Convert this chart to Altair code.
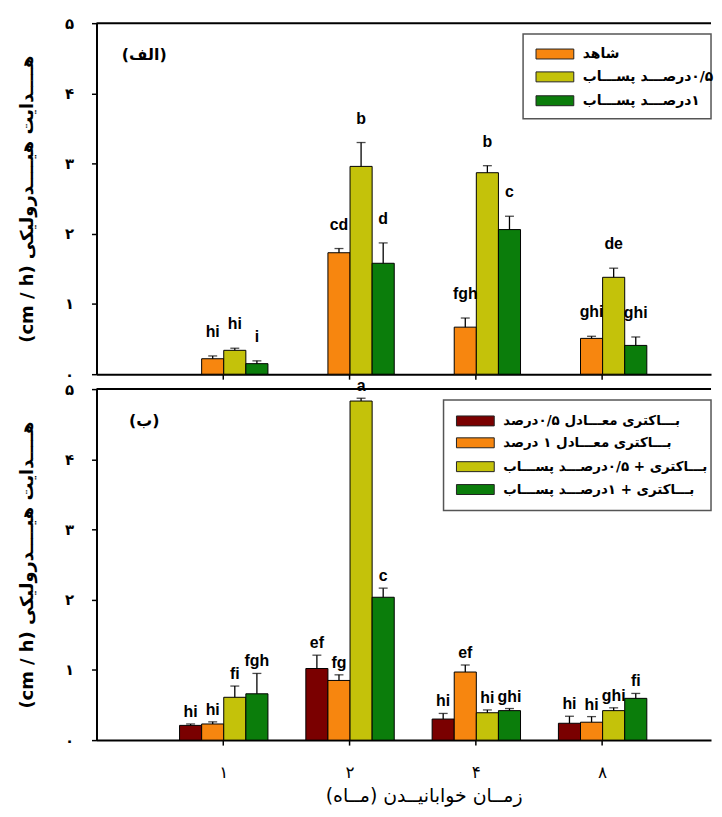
import altair as alt
import pandas as pd

RLE = "\u202b"
PDF = "\u202c"

months = ["۱", "۲", "۴", "۸"]
y_tick_labels = ["۰", "۱", "۲", "۳", "۴", "۵"]

# ---- panel (الف) ----
top_control = [0.22, 1.73, 0.67, 0.51]
top_control_err = [0.04, 0.06, 0.13, 0.03]
top_control_letters = ["hi", "cd", "fgh", "ghi"]
top_ww05 = [0.34, 2.96, 2.87, 1.38]
top_ww05_err = [0.03, 0.34, 0.10, 0.13]
top_ww05_letters = ["hi", "b", "b", "de"]
top_ww1 = [0.15, 1.58, 2.06, 0.41]
top_ww1_err = [0.04, 0.29, 0.19, 0.12]
top_ww1_letters = ["i", "d", "c", "ghi"]

# ---- panel (ب) ----
bot_b05 = [0.21, 1.02, 0.30, 0.24]
bot_b05_err = [0.02, 0.19, 0.08, 0.10]
bot_b05_letters = ["hi", "ef", "hi", "hi"]
bot_b1 = [0.23, 0.85, 0.97, 0.255]
bot_b1_err = [0.03, 0.08, 0.10, 0.08]
bot_b1_letters = ["hi", "fg", "ef", "hi"]
bot_bww05 = [0.61, 4.83, 0.39, 0.42]
bot_bww05_err = [0.16, 0.04, 0.04, 0.04]
bot_bww05_letters = ["fi", "a", "hi", "ghi"]
bot_bww1 = [0.66, 2.035, 0.42, 0.595]
bot_bww1_err = [0.29, 0.13, 0.03, 0.07]
bot_bww1_letters = ["fgh", "c", "ghi", "fi"]

slot_colors = ["#7A0000", "#F7860F", "#C4C20A", "#0B7D0B"]


def rtl(s):
    # lay the Persian text out right-to-left
    return RLE + s + PDF


top_legend = [
    "شاهد",
    "۰/۵درصـــد پســـاب",
    "۱درصـــد پســـاب",
]
top_legend_slots = [1, 2, 3]
bot_legend = [
    "بـــاکتری معـــادل ۰/۵درصد",
    "بـــاکتری معـــادل ۱ درصد",
    "بـــاکتری + ۰/۵درصـــد پســـاب",
    "بـــاکتری + ۱درصـــد پســـاب",
]
bot_legend_slots = [0, 1, 2, 3]

y_title = "هــــدایت هیــــدرولیکی (cm / h)"
x_title = "زمــان خوابانیــدن (مــاه)"


def make_df(series):
    rows = []
    for slot, vals, errs, lets in series:
        for m, v, e, l in zip(months, vals, errs, lets):
            rows.append({"month": m, "slot": slot, "value": v, "upper": v + e, "letter": l})
    return pd.DataFrame(rows)


top_df = make_df([
    (1, top_control, top_control_err, top_control_letters),
    (2, top_ww05, top_ww05_err, top_ww05_letters),
    (3, top_ww1, top_ww1_err, top_ww1_letters),
])
bot_df = make_df([
    (0, bot_b05, bot_b05_err, bot_b05_letters),
    (1, bot_b1, bot_b1_err, bot_b1_letters),
    (2, bot_bww05, bot_bww05_err, bot_bww05_letters),
    (3, bot_bww1, bot_bww1_err, bot_bww1_letters),
])

W = 618
H = 353
FA = "DejaVu Sans"
LAT = "Liberation Sans"

label_expr = "['۰','۱','۲','۳','۴','۵'][datum.value]"


def panel(df, show_x, legend_labels, legend_slots, box, sw_x, rows_y, panel_label,
          letter_dy, legend_font):
    if show_x:
        x_axis = alt.Axis(title=rtl(x_title), labels=True, labelFont=FA, labelFontSize=17,
                          labelPadding=20, labelColor="black", labelAngle=0,
                          titleFont=FA, titleFontSize=19, titleFontWeight="normal",
                          titlePadding=6, titleColor="black", titleX=W / 2 + 20,
                          tickSize=5, tickColor="black", tickWidth=1.5,
                          domainColor="black", domainWidth=2)
    else:
        x_axis = alt.Axis(title=None, labels=False, tickSize=5, tickColor="black",
                          tickWidth=1.5, domainColor="black", domainWidth=2)
    y_axis = alt.Axis(title=rtl(y_title), values=[0, 1, 2, 3, 4, 5], labelExpr=label_expr,
                      labelFont=FA, labelFontSize=15, labelFontWeight="bold", labelColor="black",
                      labelPadding=18, tickSize=5, tickColor="black", tickWidth=1.5,
                      domainColor="black", domainWidth=2, grid=False,
                      titleFont=FA, titleFontSize=18, titleFontWeight="bold",
                      titleColor="black", titlePadding=28)
    base = alt.Chart(df).encode(
        x=alt.X("month:N", sort=months,
                scale=alt.Scale(paddingInner=0.3, paddingOuter=0.583, align=0.564),
                axis=x_axis),
        xOffset=alt.XOffset("slot:O", scale=alt.Scale(domain=[0, 1, 2, 3])),
    )
    yscale = alt.Scale(domain=[0, 5], nice=False)
    bars = base.mark_bar(stroke="black", strokeWidth=1).encode(
        y=alt.Y("value:Q", scale=yscale, axis=y_axis),
        color=alt.Color("slot:O", scale=alt.Scale(domain=[0, 1, 2, 3], range=slot_colors), legend=None),
    )
    err = base.mark_rule(color="black", strokeWidth=1.3).encode(y="value:Q", y2="upper:Q")
    cap = base.mark_tick(color="black", thickness=1.3, size=9).encode(y="upper:Q")
    letters = base.mark_text(baseline="bottom", dy=letter_dy, font=LAT, fontSize=16,
                             fontWeight="bold", color="black").encode(
        y="upper:Q", text="letter:N")
    one = pd.DataFrame({"a": [0]})
    top_line = alt.Chart(one).mark_rule(color="black", strokeWidth=2).encode(y=alt.datum(5))
    plabel = alt.Chart(one).mark_text(font=FA, fontSize=16, fontWeight="bold", color="black").encode(
        x=alt.value(48), y=alt.value(32), text=alt.value(rtl(panel_label)))
    bx0, bx1, by0, by1 = box
    legend_box = alt.Chart(one).mark_rect(fill="white", stroke="#555", strokeWidth=1.5).encode(
        x=alt.value(bx0), x2=alt.value(bx1), y=alt.value(by0), y2=alt.value(by1))
    layers = [bars, err, cap, letters, top_line, plabel, legend_box]
    for lab, slot, ry in zip(legend_labels, legend_slots, rows_y):
        ldf = pd.DataFrame({"label": [rtl(lab)]})
        layers.append(alt.Chart(ldf).mark_rect(fill=slot_colors[slot], stroke="#222", strokeWidth=1).encode(
            x=alt.value(sw_x), x2=alt.value(sw_x + 38), y=alt.value(ry - 5), y2=alt.value(ry + 5)))
        layers.append(alt.Chart(ldf).mark_text(align="left", baseline="middle", font=FA,
                                               fontSize=legend_font, fontWeight="bold",
                                               color="black").encode(
            x=alt.value(sw_x + 47), y=alt.value(ry), text="label:N"))
    return alt.layer(*layers).properties(width=W, height=H)


top = panel(top_df, False, top_legend, top_legend_slots, (429, 618, 11, 96), 442,
            [31, 54, 78], "(الف)", -16, 14)
bottom = panel(bot_df, True, bot_legend, bot_legend_slots, (349, 618, 11, 122), 362,
               [32, 54, 78, 101], "(ب)", -4, 13.5)

chart = alt.vconcat(top, bottom, spacing=15, bounds="flush").properties(
    padding={"left": 10, "top": 6, "right": 0, "bottom": 0}
).configure_view(stroke=None)

chart.save("out.html", embed_options={"renderer": "svg", "actions": False})
